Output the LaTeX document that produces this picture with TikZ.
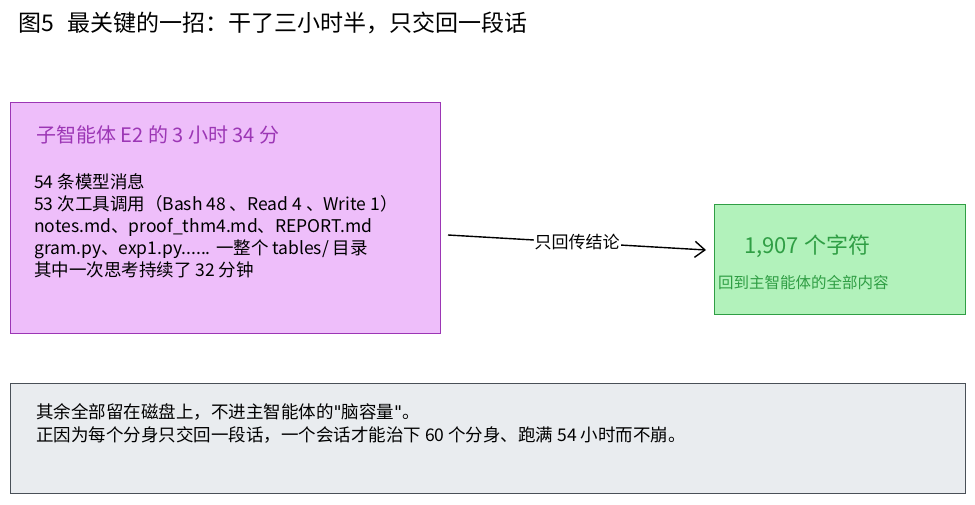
\documentclass[tikz,border=0pt]{standalone}
\usepackage{fontspec}
\usetikzlibrary{arrows.meta}
\setmainfont{Noto Sans CJK SC}
\newfontfamily\latq{DejaVu Sans}
\begin{document}
\begin{tikzpicture}[x=1pt,y=-1pt,
  box/.style={draw,line width=1.3pt},
  txt/.style={anchor=west,inner sep=0pt,font=\fontsize{14}{20}\selectfont}]
\definecolor{pf}{HTML}{EEBEFA}\definecolor{pd}{HTML}{9C36B5}
\definecolor{gf}{HTML}{B2F2BB}\definecolor{gd}{HTML}{2F9E44}
\definecolor{hf}{HTML}{E9ECEF}\definecolor{hd}{HTML}{495057}
\useasboundingbox[fill=white] (0,0) rectangle (975,504);
\node[anchor=west,inner sep=0pt,font=\fontsize{23}{26}\selectfont] (title) at (18,23) {图5\hspace{0.6em}最关键的一招：干了三小时半，只交回一段话};
\node[box,draw=pd,fill=pf,minimum width=430,minimum height=231,anchor=north west] (sub) at (10,102) {};
\node[txt,text=pd,font=\fontsize{20}{22}\selectfont] (subt) at (36,135) {子智能体 E2 的 3 小时 34 分};
\node[txt,align=left,anchor=north west,font=\fontsize{17.5}{22}\selectfont] (subb) at (34,173) {54 条模型消息\\53 次工具调用（Bash 48 、Read 4 、Write 1）\\notes.md、proof\_thm4.md、REPORT.md\\gram.py、exp1.py...... 一整个 tables/ 目录\\其中一次思考持续了 32 分钟};
\node[box,draw=gd,fill=gf,minimum width=251,minimum height=110,anchor=north west] (main) at (714,204) {};
\node[txt,text=gd,font=\fontsize{22}{24}\selectfont] (mt) at (744,246) {1,907 个字符};
\node[txt,text=gd,font=\fontsize{15.5}{18}\selectfont] (ms) at (718,283) {回到主智能体的全部内容};
\coordinate (a0) at (448,235);
\coordinate (a1) at (706,250);
\draw[line width=1.4pt,-{Straight Barb[length=10pt,width=16pt]}] (a0) -- node[fill=white,inner sep=1pt,font=\fontsize{17}{20}\selectfont] (lab) {只回传结论} (a1);
\node[box,draw=hd,line width=1pt,fill=hf,minimum width=955,minimum height=110,anchor=north west] (note) at (10,383) {};
\node[txt,align=left,anchor=north west,font=\fontsize{17.5}{23}\selectfont] (nt) at (36,403) {其余全部留在磁盘上，不进主智能体的{\latq\symbol{34}}脑容量{\latq\symbol{34}}。\\正因为每个分身只交回一段话，一个会话才能治下 60 个分身、跑满 54 小时而不崩。};
\end{tikzpicture}
\end{document}
